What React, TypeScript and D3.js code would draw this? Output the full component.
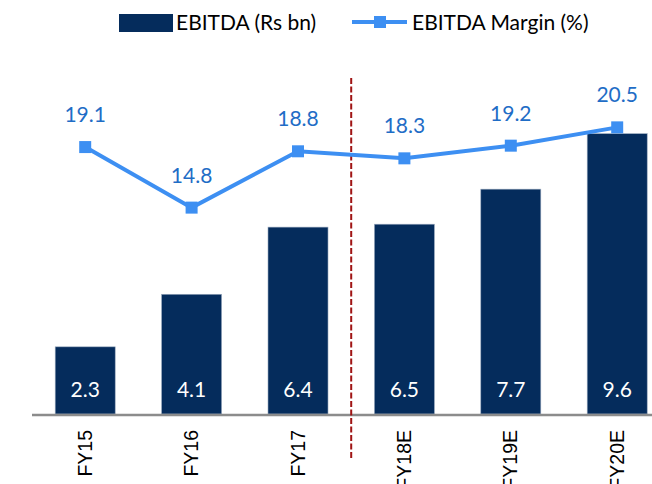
import React from 'react'
import * as d3 from 'd3'

// data
const years = ['FY15', 'FY16', 'FY17', 'FY18E', 'FY19E', 'FY20E']
const ebitda = [2.3, 4.1, 6.4, 6.5, 7.7, 9.6]
const margin = [19.1, 14.8, 18.8, 18.3, 19.2, 20.5]

const W = 652
const H = 484

const barColor = '#052c5c'
const lineColor = '#3d8ff2'
const labelBlue = '#1f6dc6'
const calibriLike = 'Lato, "Open Sans", sans-serif'

export default function App() {
  const x = d3.scaleBand<string>()
    .domain(years)
    .range([32, 32 + 6 * 106.4])
    .paddingInner(0.436)
    .paddingOuter(0.218)

  const y = d3.scaleLinear().domain([0, 12]).range([414, 63.6])
  const y2 = d3.scaleLinear().domain([0, 25]).range([416, 64])

  const cx = (d: string) => (x(d) ?? 0) + x.bandwidth() / 2

  const line = d3.line<number>()
    .x((_, i) => cx(years[i]))
    .y(d => y2(d))

  // dashed separator between actuals and estimates
  const sepX = (cx('FY17') + cx('FY18E')) / 2

  return (
    <svg width={W} height={H} viewBox={`0 0 ${W} ${H}`}
      style={{ position: 'absolute', left: 0, top: 0, background: '#fff' }}>
      {/* legend */}
      <g>
        <rect x={119} y={14} width={54} height={18} fill={barColor} />
        <text x={176} y={30} fontFamily={calibriLike} fontSize={21} fill="#000">EBITDA (Rs bn)</text>
        <line x1={352} x2={407} y1={22} y2={22} stroke={lineColor} strokeWidth={4} />
        <rect x={374} y={16} width={12} height={12} fill={lineColor} />
        <text x={412} y={30} fontFamily={calibriLike} fontSize={21} fill="#000">EBITDA Margin (%)</text>
      </g>

      {/* bars */}
      {years.map((d, i) => (
        <g key={d}>
          <rect x={x(d)} y={y(ebitda[i])} width={x.bandwidth()} height={y(0) - y(ebitda[i])}
            fill={barColor} stroke="#9aaabe" strokeWidth={0.6} />
          <text x={cx(d)} y={397} textAnchor="middle" fontFamily={calibriLike}
            fontSize={21} fill="#fff">{ebitda[i].toFixed(1)}</text>
        </g>
      ))}

      {/* axis */}
      <line x1={32} x2={W} y1={415} y2={415} stroke="#8c8c8c" strokeWidth={2.5} />
      {years.map(d => (
        <text key={d} transform={`translate(${cx(d) + 6.5},430) rotate(-90)`} textAnchor="end"
          fontFamily='"Liberation Sans", Arial, sans-serif' fontSize={19.5} fill="#000">{d}</text>
      ))}

      <line x1={sepX} x2={sepX} y1={78} y2={458} stroke="#a01414" strokeWidth={2}
        strokeDasharray="6,2.5" />

      {/* margin line */}
      <path d={line(margin) ?? ''} fill="none" stroke={lineColor} strokeWidth={4} />
      {margin.map((v, i) => (
        <g key={years[i]}>
          <rect x={cx(years[i]) - 6} y={y2(v) - 6} width={12} height={12} fill={lineColor} />
          <text x={cx(years[i])} y={y2(v) - 25} textAnchor="middle" fontFamily={calibriLike}
            fontSize={21} fill={labelBlue}>{v.toFixed(1)}</text>
        </g>
      ))}
    </svg>
  )
}
